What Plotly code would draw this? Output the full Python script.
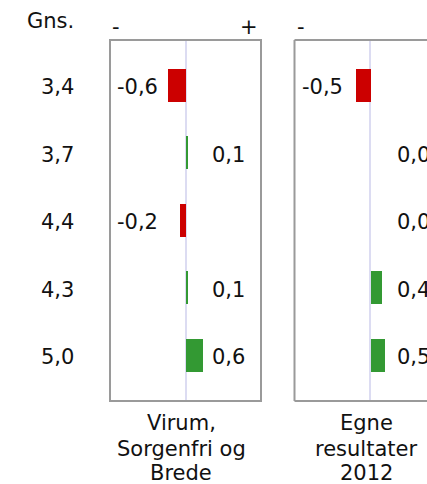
import plotly.graph_objects as go

averages = ["3,4", "3,7", "4,4", "4,3", "5,0"]
panel_titles = [["Virum,", "Sorgenfri og", "Brede"], ["Egne", "resultater", "2012"]]
values_virum = [-0.6, 0.1, -0.2, 0.1, 0.6]
values_egne = [-0.5, 0.0, 0.0, 0.4, 0.5]

W, H = 427, 484
FONT = "DejaVu Sans"
FS = 21
RED = "#cc0000"
GREEN = "#339933"
BOX = "#9a9a9a"
GRID = "#dcdcf2"

def px(x):
    return x / W

def py(y):
    return 1 - y / H

rows = list(range(len(averages)))

fig = go.Figure()
for i, vals in enumerate([values_virum, values_egne]):
    suffix = "" if i == 0 else "2"
    fig.add_trace(go.Bar(
        x=vals, y=rows, orientation="h",
        marker=dict(color=[RED if v < 0 else GREEN for v in vals], line=dict(width=0)),
        width=0.49,
        xaxis="x" + suffix, yaxis="y" + suffix,
        hoverinfo="skip", showlegend=False,
    ))

ydom = [py(401), py(40)]
yr = [4.68, -0.67]
xcommon = dict(showgrid=False, showticklabels=False, ticks="", zeroline=True,
               zerolinecolor=GRID, zerolinewidth=1.5, showline=False, fixedrange=True)
ycommon = dict(showgrid=False, showticklabels=False, ticks="", zeroline=False,
               range=yr, domain=ydom, showline=False, fixedrange=True)

fig.update_layout(
    width=W, height=H,
    margin=dict(l=0, r=0, t=0, b=0),
    paper_bgcolor="white", plot_bgcolor="white",
    font=dict(family=FONT, size=FS, color="#111111"),
    xaxis=dict(domain=[px(110), px(261)], range=[-2.57, 2.57], **xcommon),
    xaxis2=dict(domain=[px(294.5), 1], range=[-2.57, 1.93], **xcommon),
    yaxis=dict(anchor="x", **ycommon),
    yaxis2=dict(anchor="x2", **ycommon),
    bargap=0,
)

shapes = [
    dict(type="rect", xref="paper", yref="paper", x0=px(110), x1=px(261),
         y0=py(401), y1=py(40), line=dict(color=BOX, width=2)),
    dict(type="line", xref="paper", yref="paper", x0=px(294.5), x1=px(294.5),
         y0=py(401), y1=py(40), line=dict(color=BOX, width=2)),
    dict(type="line", xref="paper", yref="paper", x0=px(294.5), x1=px(460),
         y0=py(40), y1=py(40), line=dict(color=BOX, width=2)),
    dict(type="line", xref="paper", yref="paper", x0=px(294.5), x1=px(460),
         y0=py(401), y1=py(401), line=dict(color=BOX, width=2)),
]
fig.update_layout(shapes=shapes)

ann = []
# Header
ann.append(dict(text="Gns.", xref="paper", yref="paper", x=px(76), y=py(21),
                xanchor="right", yanchor="middle", showarrow=False))
ann.append(dict(text="-", xref="paper", yref="paper", x=px(110), y=py(27),
                xanchor="left", yanchor="middle", showarrow=False))
ann.append(dict(text="+", xref="paper", yref="paper", x=px(260), y=py(27),
                xanchor="right", yanchor="middle", showarrow=False))
ann.append(dict(text="-", xref="paper", yref="paper", x=px(295), y=py(27),
                xanchor="left", yanchor="middle", showarrow=False))
# Averages
for r, a in zip(rows, averages):
    ann.append(dict(text=a, xref="paper", yref="y", x=px(76), y=r + 0.03,
                    xanchor="right", yanchor="middle", showarrow=False))
# Value labels
for i, vals in enumerate([values_virum, values_egne]):
    left = 110 if i == 0 else 294.5
    yref = "y" if i == 0 else "y2"
    for r, v in zip(rows, vals):
        txt = ("%.1f" % v).replace(".", ",")
        if v < 0:
            x = left + 5
        else:
            x = left + 100
        ann.append(dict(text=txt, xref="paper", yref=yref, x=px(x), y=r + 0.03,
                        xanchor="left", yanchor="middle", showarrow=False))
# Panel titles (one annotation per line for tight line spacing)
line_y = [423, 448.5, 473]
for i, lines in enumerate(panel_titles):
    cx = 181 if i == 0 else 366
    for ly, t in zip(line_y, lines):
        ann.append(dict(text=t, xref="paper", yref="paper", x=px(cx), y=py(ly),
                        xanchor="center", yanchor="middle", showarrow=False))
fig.update_layout(annotations=ann)

fig.write_html(
    "out.html",
    config={"displayModeBar": False},
    post_script="document.body.style.margin='0';document.body.style.overflow='hidden';",
)
